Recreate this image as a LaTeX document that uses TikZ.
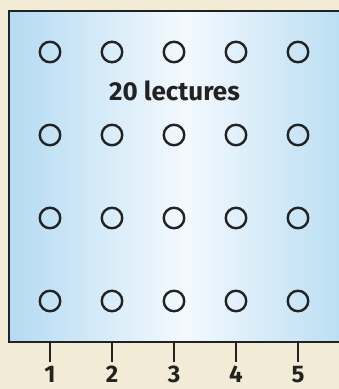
\documentclass[tikz,border=0pt]{standalone}
\usepackage{fontspec}
\setmainfont{Fira Sans}
\definecolor{cream}{HTML}{F2EBD5}
\definecolor{edgeblue}{HTML}{B4DBF2}
\definecolor{midblue}{HTML}{F3F9FE}
\definecolor{ink}{HTML}{222222}
\begin{document}
\begin{tikzpicture}[x=1pt,y=-1pt,
  seat/.style={circle,draw=ink,line width=2.4pt,minimum size=20.5pt,inner sep=0pt},
  lbl/.style={font=\bfseries\fontsize{26}{26}\selectfont,text=ink,inner sep=0pt},
  num/.style={font=\bfseries\fontsize{24}{24}\selectfont,text=ink,inner sep=0pt},
  tick/.style={draw=ink,line width=1.8pt}]
\useasboundingbox (0,0) rectangle (339,389);
\fill[cream] (0,0) rectangle (339,389);
\begin{scope}
\clip (0,0) rectangle (339,389);
\shade[left color=edgeblue,right color=edgeblue,middle color=midblue] (9,11) rectangle (361,342);
\draw[ink,line width=2.6pt] (361,11) -- (9,11) -- (9,342) -- (361,342);
\end{scope}
\foreach \c/\x in {1/50,2/112,3/174,4/236,5/298}{
  \foreach \r/\y in {1/52,2/135,3/218,4/301}{
    \node[seat] (s\r\c) at (\x,\y) {};
  }
  \coordinate (t\c) at (\x,342);
  \node[num,anchor=base] (n\c) at (\x,382) {\c};
  \draw[tick] (t\c) -- (\x,362);
}
\node[lbl] (title) at (174.5,90.5) {20 lectures};
\end{tikzpicture}
\end{document}
